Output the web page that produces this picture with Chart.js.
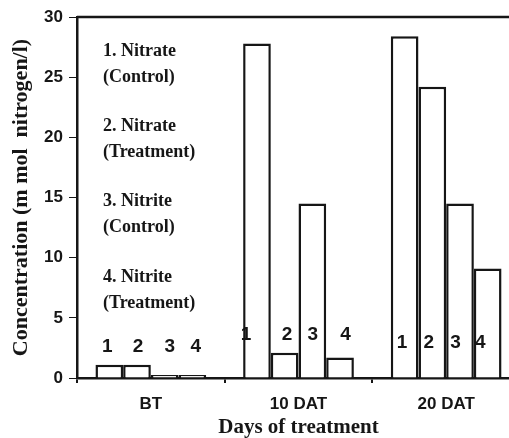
<!DOCTYPE html>
<html>
<head>
<meta charset="utf-8">
<script src="https://cdn.jsdelivr.net/npm/chart.js@4/dist/chart.umd.min.js"></script>
<style>
  html, body { margin: 0; padding: 0; background: #fff; overflow: hidden; }
  #wrap { width: 520px; height: 438px; position: relative; }
</style>
</head>
<body>
<div id="wrap"><canvas id="c"></canvas></div>
<script>
// ---- data ----
const categories = ["BT", "10 DAT", "20 DAT"];
const seriesNames = ["Nitrate (Control)", "Nitrate (Treatment)", "Nitrite (Control)", "Nitrite (Treatment)"];
const seriesNumbers = ["1", "2", "3", "4"];
const nitrateControl   = [1.1, 27.8, 28.4];
const nitrateTreatment = [1.1, 2.1, 24.2];
const nitriteControl   = [0.25, 14.5, 14.5];
const nitriteTreatment = [0.25, 1.7, 9.1];
const yTicks = [0, 5, 10, 15, 20, 25, 30];
const legendLines = ["1. Nitrate", "(Control)", "2. Nitrate", "(Treatment)",
                     "3. Nitrite", "(Control)", "4. Nitrite", "(Treatment)"];

const values = [nitrateControl, nitrateTreatment, nitriteControl, nitriteTreatment];
const INK = "#161616";

// number labels: value-level (y) per category, x pixel offsets per [series][category]
const numberLabelLevel = [2.6, 3.6, 2.9];
const numberLabelDx = [[-2, -11, -2.5], [1, 2.5, -3.5], [5, 0.5, -4.5], [3.5, 5.5, -7.5]];
const legendYOffsets = [34, 60, 109, 135, 184, 210, 260, 286];

const decorPlugin = {
  id: "decor",
  afterDatasetsDraw(chart) {
    const ctx = chart.ctx;
    const area = chart.chartArea;
    const ys = chart.scales.y;
    ctx.save();
    // top frame line
    ctx.strokeStyle = INK;
    ctx.lineWidth = 2.5;
    ctx.beginPath();
    ctx.moveTo(area.left, area.top);
    ctx.lineTo(chart.width, area.top);
    ctx.stroke();
    // series numbers over bars
    ctx.fillStyle = INK;
    ctx.font = "bold 19px 'Liberation Sans', Arial, sans-serif";
    ctx.textAlign = "center";
    ctx.textBaseline = "middle";
    chart.data.datasets.forEach((ds, i) => {
      const meta = chart.getDatasetMeta(i);
      meta.data.forEach((bar, j) => {
        ctx.fillText(seriesNumbers[i], bar.x + numberLabelDx[i][j], ys.getPixelForValue(numberLabelLevel[j]));
      });
    });
    // text key
    ctx.font = "bold 18px 'Liberation Serif', 'Times New Roman', serif";
    ctx.textAlign = "left";
    legendLines.forEach((t, k) => {
      ctx.fillText(t, area.left + 26, area.top + legendYOffsets[k]);
    });
    ctx.restore();
  }
};

new Chart(document.getElementById("c"), {
  type: "bar",
  data: {
    labels: categories,
    datasets: values.map((v, i) => ({
      label: seriesNames[i],
      data: v,
      backgroundColor: "#ffffff",
      borderColor: INK,
      borderWidth: 2.5,
      borderSkipped: "bottom",
      categoryPercentage: 0.75,
      barPercentage: 1.0
    }))
  },
  options: {
    responsive: true,
    maintainAspectRatio: false,
    animation: false,
    layout: { padding: { left: 0, top: 17, right: 0, bottom: 0 } },
    plugins: { legend: { display: false }, tooltip: { enabled: false } },
    scales: {
      x: {
        afterFit(s) { s.height = 60; },
        grid: { display: true, drawOnChartArea: false, drawTicks: true, tickLength: 5, color: INK, lineWidth: 2, offset: true },
        border: { display: true, color: INK, width: 2.5 },
        ticks: { color: INK, padding: 11, font: { family: "'Liberation Sans', Arial, sans-serif", size: 17, weight: "bold" } },
        title: { display: true, text: "Days of treatment", color: INK, padding: { top: 0, bottom: 0 },
                 font: { family: "'Liberation Serif', 'Times New Roman', serif", size: 21, weight: "bold", lineHeight: 1.0 } }
      },
      y: {
        min: 0, max: 30,
        afterFit(s) { s.width = 77; },
        afterBuildTicks(s) { s.ticks = yTicks.map(v => ({ value: v })); },
        grid: { display: true, drawOnChartArea: false, drawTicks: true, tickLength: 8, color: INK, lineWidth: 1 },
        border: { display: true, color: INK, width: 2.5 },
        ticks: { color: INK, padding: 6, font: { family: "'Liberation Sans', Arial, sans-serif", size: 17, weight: "bold" } },
        title: { display: true, text: "Concentration (m mol  nitrogen/l)", color: INK, padding: { top: 10, bottom: 0 },
                 font: { family: "'Liberation Serif', 'Times New Roman', serif", size: 22, weight: "bold", lineHeight: 1.0 } }
      }
    }
  },
  plugins: [decorPlugin]
});
</script>
</body>
</html>
